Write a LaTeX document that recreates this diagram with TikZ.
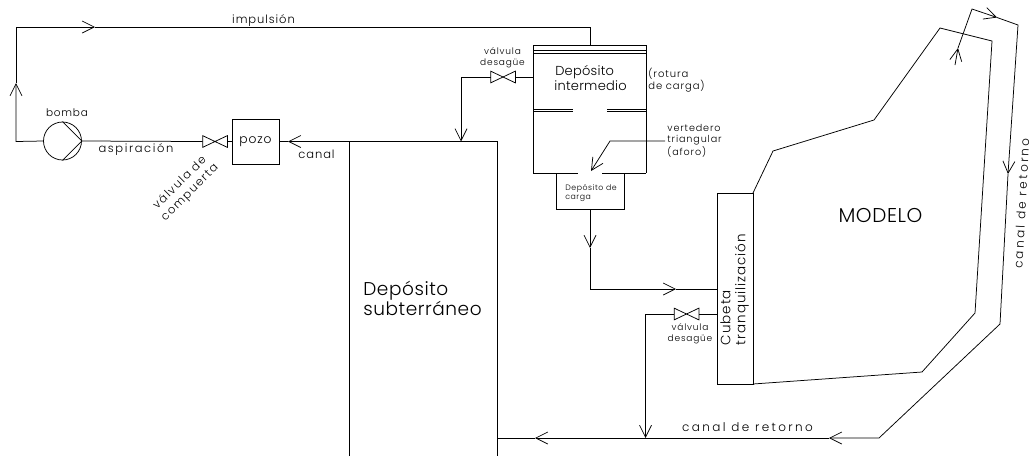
\documentclass[tikz,border=0pt]{standalone}
\usepackage{fontspec}
\setmainfont{Poppins Light}
\usetikzlibrary{arrows.meta}
\newcommand{\valv}[3]{\node[valv] (#1) at (#2,#3) {};
\draw (#1.north west) -- (#1.south east) -- (#1.north east)
  -- (#1.south west) -- cycle;}

\begin{document}
\begin{tikzpicture}[x=1pt,y=-1pt,line width=0.75pt,
  valv/.style={rectangle, inner sep=0pt, minimum width=24pt, minimum height=11pt},
  fl/.style={-{Straight Barb[length=12pt,width=12pt]}},
  txt/.style={inner sep=0pt, font=\fontsize{11.5}{14}\selectfont\addfontfeatures{LetterSpace=8}},
  txtl/.style={inner sep=0pt, font=\fontsize{12}{14}\selectfont\addfontfeatures{LetterSpace=20}},
  txtp/.style={inner sep=0pt, font=\fontsize{10}{11}\selectfont\addfontfeatures{LetterSpace=9}},
  txtv/.style={inner sep=0pt, align=center, font=\fontsize{9}{11}\selectfont\addfontfeatures{LetterSpace=9}}]
\useasboundingbox (0,0) rectangle (1032,456);
% bomba y pozo
\node[draw, circle, inner sep=0pt, minimum size=38pt] (bomba) at (62.5,141) {};
\node[draw, rectangle, inner sep=0pt, minimum width=47pt, minimum height=45pt,
  font=\fontsize{12.3}{14}\selectfont\addfontfeatures{LetterSpace=7}] (pozo) at (255.5,141.5) {pozo};
\valv{vc}{215}{141.5}
\draw (bomba.north) -- (bomba.east) -- (bomba.south);
\draw (bomba.east) -- (vc.west);
\draw (vc.east) -- (pozo.west);
\node[txt, font=\fontsize{10.5}{14}\selectfont\addfontfeatures{LetterSpace=7}] (tbomba) at (67,113) {bomba};
\node[txt, font=\fontsize{11.5}{14}\selectfont\addfontfeatures{LetterSpace=14}] (tasp) at (136,150) {aspiraci\'on};
\node[txt, align=center, rotate=45, font=\fontsize{11.5}{14}\selectfont\addfontfeatures{LetterSpace=12}] (tvc) at (185,188) {v\'alvula de\\compuerta};
% impulsion
\coordinate (c1) at (16,141.5);
\coordinate (c2) at (16,83);
\coordinate (c3) at (16,27);
\coordinate (c4) at (95,27);
\coordinate (c5) at (590,27);
\draw[fl] (bomba.west) -- (c1) -- (c2);
\draw[fl] (c2) -- (c3) -- (c4);
\draw (c4) -- (c5);
\node[txt] (timp) at (263.5,21) {impulsi\'on};
% deposito subterraneo
\coordinate (s1) at (349,456);
\coordinate (s2) at (349,141.5);
\coordinate (s3) at (497,141.5);
\coordinate (s4) at (497,456);
\draw (s1) -- (s2) -- (s3) -- (s4);
\node[inner sep=0pt, align=left, font=\fontsize{18.5}{19}\selectfont\addfontfeatures{LetterSpace=3}] (tsub) at (422.5,298.5) {Dep\'osito\\subterr\'aneo};
\coordinate (ca) at (288,141.5);
\draw[fl] (s2) -- (ca);
\draw (ca) -- (pozo.east);
\node[txt] (tcan) at (316.5,154) {canal};
% deposito intermedio
\coordinate (i1) at (533,45);
\coordinate (i2) at (646,45);
\coordinate (i3) at (533,173);
\coordinate (i4) at (646,173);
\coordinate (i5) at (533,50.5);
\coordinate (i6) at (646,50.5);
\coordinate (i7) at (533,53);
\coordinate (i8) at (646,53);
\coordinate (m1) at (533,109);
\coordinate (m2) at (573,109);
\coordinate (m3) at (607,109);
\coordinate (m4) at (646,109);
\coordinate (m5) at (533,111);
\coordinate (m6) at (573,111);
\coordinate (m7) at (607,111);
\coordinate (m8) at (646,111);
\coordinate (b1) at (578,173);
\coordinate (b2) at (602,173);
\coordinate (i9) at (590,45);
\draw (i3) -- (i1) -- (i2) -- (i4);
\draw (i5) -- (i6);
\draw (i7) -- (i8);
\draw (m1) -- (m2);
\draw (m3) -- (m4);
\draw (m5) -- (m6);
\draw (m7) -- (m8);
\draw (i3) -- (b1);
\draw (b2) -- (i4);
\draw (c5) -- (i9);
\node[inner sep=0pt, align=left, font=\fontsize{13}{14.5}\selectfont\addfontfeatures{LetterSpace=2}] (tint) at (590.5,78) {\hspace*{1pt}Dep\'osito\\intermedio};
\node[txtp, align=left] (trot) at (676.5,80.5) {(rotura\\de carga)};
% valvula superior
\valv{vs}{503}{77}
\coordinate (v1) at (533,77);
\coordinate (v2) at (461,77);
\coordinate (v3) at (461,141.5);
\draw (v1) -- (vs.east);
\draw[fl] (vs.west) -- (v2) -- (v3);
\node[txtv] (tvs) at (502.5,57.5) {v\'alvula\\desag\"ue};
% vertedero
\coordinate (l1) at (665,141);
\coordinate (l2) at (610,141);
\coordinate (l3) at (591,171);
\draw[fl] (l1) -- (l2) -- (l3);
\node[txtp, align=left, font=\fontsize{9.6}{11}\selectfont\addfontfeatures{LetterSpace=9}] (tver) at (694.5,141) {vertedero\\triangular\\(aforo)};
% deposito de carga
\coordinate (e1) at (556,173);
\coordinate (e2) at (556,209);
\coordinate (e3) at (624,209);
\coordinate (e4) at (624,173);
\coordinate (e5) at (590,209);
\coordinate (e6) at (590,248);
\coordinate (e7) at (590,289);
\coordinate (e8) at (676,289);
\coordinate (e9) at (717.5,289);
\draw (e1) -- (e2) -- (e3) -- (e4);
\draw[fl] (e5) -- (e6);
\draw[fl] (e6) -- (e7) -- (e8);
\draw (e8) -- (e9);
\node[inner sep=0pt, align=left, font=\fontsize{7.8}{9}\selectfont\addfontfeatures{LetterSpace=7}] (tcar) at (591,193.5) {Dep\'osito de\\carga};
% cubeta
\node[draw, rectangle, inner sep=0pt, minimum width=35.5pt, minimum height=191pt] (cub) at (735.5,288.5) {};
\node[inner sep=0pt, rotate=90, align=left, font=\fontsize{13.5}{15}\selectfont\addfontfeatures{LetterSpace=7}] (tcub) at (734.5,289.5) {Cubeta\\tranquilizaci\'on};
% modelo
\coordinate (o1) at (753,193);
\coordinate (o2) at (773,151);
\coordinate (o3) at (874,120);
\coordinate (o4) at (940,28);
\coordinate (o5) at (992,41);
\coordinate (o6) at (975,313);
\coordinate (o7) at (922,372);
\coordinate (o8) at (753,384);
\draw (o1) -- (o2) -- (o3) -- (o4) -- (o5) -- (o6) -- (o7) -- (o8);
\node[inner sep=0pt, font=\fontsize{20}{22}\selectfont\addfontfeatures{LetterSpace=3}] (tmod) at (880.5,215.5) {MODELO};
% valvula inferior
\valv{vi}{686.5}{314}
\coordinate (d1) at (717.5,314);
\coordinate (d2) at (645.5,314);
\coordinate (d3) at (645.5,438);
\draw (d1) -- (vi.east);
\draw[fl] (vi.west) -- (d2) -- (d3);
\node[txtv] (tvi) at (690,333.5) {v\'alvula\\desag\"ue};
% canal de retorno
\coordinate (r1) at (955,65);
\coordinate (r2) at (958,48);
\coordinate (r3) at (972,9);
\coordinate (r4) at (997,17.5);
\coordinate (r5) at (1018,25);
\coordinate (r6) at (1008,174);
\coordinate (r7) at (1000,324);
\coordinate (r8) at (879,438);
\coordinate (r9) at (829,438);
\coordinate (r10) at (535,438);
\coordinate (r11) at (497,438);
\draw[fl] (r1) -- (r2);
\draw[fl] (r2) -- (r3) -- (r4);
\draw[fl] (r4) -- (r5) -- (r6);
\draw[fl] (r6) -- (r7) -- (r8) -- (r9);
\draw[fl] (r9) -- (r10);
\draw (r10) -- (r11);
\node[txtl] (tret) at (747.5,427) {canal de retorno};
\node[txtl, rotate=87] (tret2) at (1021.5,203.5) {canal de retorno};
\end{tikzpicture}
\end{document}
